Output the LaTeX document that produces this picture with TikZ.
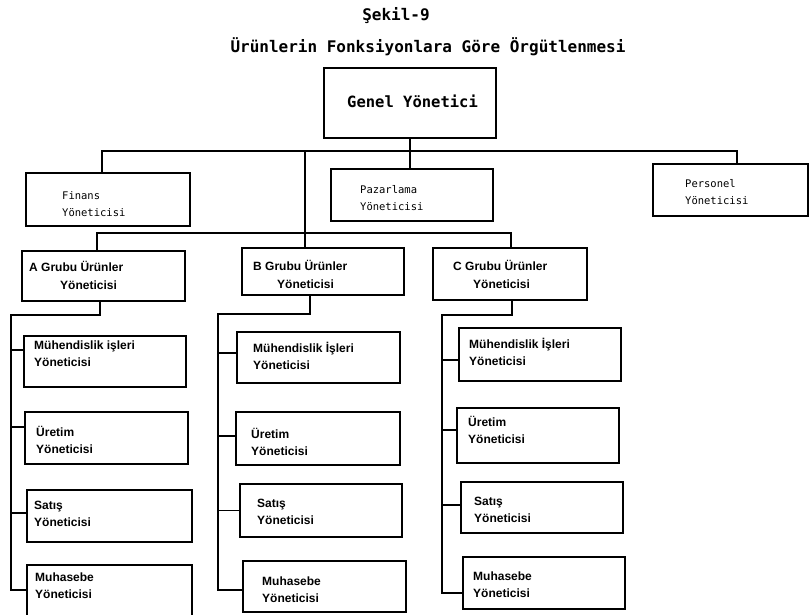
\documentclass[tikz,border=0pt]{standalone}
\usepackage{fontspec}
\setmainfont{Liberation Sans}
\newfontfamily\monofont{DejaVu Sans Mono}
% box given by its corners: name, x1, y1, x2, y2
\newcommand\orgbox[5]{\node[box, minimum width={(#4-#2)*1pt}, minimum height={(#5-#3)*1pt}] (#1) at ({(#2+#4)/2},{(#3+#5)/2}) {};}
\begin{document}
\begin{tikzpicture}[x=1pt,y=-1pt,
  box/.style={draw, line width=1.3pt, inner sep=0pt, outer sep=0pt, rectangle},
  conn/.style={line width=1.3pt},
  headtext/.style={inner sep=0pt, font=\monofont\bfseries\fontsize{16}{19}\selectfont},
  toptext/.style={anchor=west, align=left, inner sep=0pt, font=\monofont\fontsize{10.5}{17}\selectfont},
  subtext/.style={anchor=west, align=left, inner sep=0pt, font=\bfseries\fontsize{12}{17}\selectfont}]

\useasboundingbox (0,0) rectangle (809,615);

% headings
\node[headtext] (fig) at (396,16) {Şekil-9};
\node[headtext] (ttl) at (428,47) {Ürünlerin Fonksiyonlara Göre Örgütlenmesi};

% top level
\orgbox{gy}{324}{68}{496}{138}
\node[anchor=west, inner sep=0pt, font=\monofont\bfseries\fontsize{15.5}{18}\selectfont] (gyL) at (347,101) {Genel Yönetici};

% functional managers
\orgbox{fin}{26}{173}{190}{226}
\node[toptext] (finL) at (62,204) {Finans\\Yöneticisi};
\orgbox{pz}{331}{169}{493}{221}
\node[toptext] (pzL) at (360,198) {Pazarlama\\Yöneticisi};
\orgbox{per}{653}{164}{808}{216}
\node[toptext] (perL) at (685,192) {Personel\\Yöneticisi};

% product group managers
\orgbox{ga}{22}{251}{185}{301}
\node[subtext] (gaL1) at (29,266) {A Grubu Ürünler};
\node[subtext] (gaL2) at (60,285) {Yöneticisi};
\orgbox{gb}{242}{248}{404}{295}
\node[subtext] (gbL1) at (253,265) {B Grubu Ürünler};
\node[subtext] (gbL2) at (277,284) {Yöneticisi};
\orgbox{gc}{433}{248}{587}{300}
\node[subtext] (gcL1) at (453,265) {C Grubu Ürünler};
\node[subtext] (gcL2) at (473,284) {Yöneticisi};

% group A units
\orgbox{am}{24}{336}{186}{387}
\node[subtext] (amL) at (34,354) {Mühendislik işleri\\Yöneticisi};
\orgbox{au}{25}{412}{188}{464}
\node[subtext] (auL) at (36,440) {Üretim\\Yöneticisi};
\orgbox{as}{27}{490}{192}{542}
\node[subtext] (asL) at (34,514) {Satış\\Yöneticisi};
\orgbox{ah}{27}{565}{192}{620}
\node[subtext] (ahL) at (35,586) {Muhasebe\\Yöneticisi};

% group B units
\orgbox{bm}{237}{332}{400}{383}
\node[subtext] (bmL) at (253,356) {Mühendislik İşleri\\Yöneticisi};
\orgbox{bu}{236}{412}{400}{465}
\node[subtext] (buL) at (251,442) {Üretim\\Yöneticisi};
\orgbox{bs}{240}{484}{402}{537}
\node[subtext] (bsL) at (257,512) {Satış\\Yöneticisi};
\orgbox{bh}{243}{561}{406}{612}
\node[subtext] (bhL) at (262,590) {Muhasebe\\Yöneticisi};

% group C units
\orgbox{cm}{459}{328}{621}{381}
\node[subtext] (cmL) at (469,352) {Mühendislik İşleri\\Yöneticisi};
\orgbox{cu}{457}{408}{619}{463}
\node[subtext] (cuL) at (468,430) {Üretim\\Yöneticisi};
\orgbox{cs}{461}{482}{623}{533}
\node[subtext] (csL) at (474,510) {Satış\\Yöneticisi};
\orgbox{ch}{463}{557}{625}{609}
\node[subtext] (chL) at (473,585) {Muhasebe\\Yöneticisi};

% upper connectors
\coordinate (bus) at (0,151);
\coordinate (gbus) at (0,233);
\draw[conn] (gy.south) -- (gy.south |- pz.north);
\draw[conn] ([xshift=-6pt]fin.north) |- (bus -| gy.south) -| ([xshift=6.5pt]per.north);
\coordinate (gbIn) at ([xshift=-18pt]gb.north);
\draw[conn] (gbIn) -- (gbIn |- bus);
\draw[conn] ([xshift=-6.5pt]ga.north) |- (gbus -| gbIn) -| ([xshift=1pt]gc.north);

% group A spine
\coordinate (aTop) at (11,315);
\coordinate (amT) at ([yshift=11.5pt]am.west);
\coordinate (auT) at ([yshift=11pt]au.west);
\coordinate (asT) at ([yshift=3pt]as.west);
\coordinate (ahT) at ([yshift=2.5pt]ah.west);
\draw[conn] ([xshift=-3.5pt]ga.south) |- (aTop) |- (ahT);
\draw[conn] (amT -| aTop) -- (amT);
\draw[conn] (auT -| aTop) -- (auT);
\draw[conn] (asT -| aTop) -- (asT);

% group B spine
\coordinate (bTop) at (218,314);
\coordinate (bmT) at ([yshift=4.5pt]bm.west);
\coordinate (buT) at ([yshift=2.5pt]bu.west);
\coordinate (bsT) at (bs.west);
\coordinate (bhT) at ([yshift=-3.5pt]bh.west);
\draw[conn] ([xshift=-13pt]gb.south) |- (bTop) |- (bhT);
\draw[conn] (bmT -| bTop) -- (bmT);
\draw[conn] (buT -| bTop) -- (buT);
\draw[conn] (bsT -| bTop) -- (bsT);

% group C spine
\coordinate (cTop) at (442,315);
\coordinate (cmT) at ([yshift=-5.5pt]cm.west);
\coordinate (cuT) at ([yshift=5.5pt]cu.west);
\coordinate (csT) at ([yshift=2.5pt]cs.west);
\coordinate (chT) at ([yshift=-10pt]ch.west);
\draw[conn] ([xshift=2pt]gc.south) |- (cTop) |- (chT);
\draw[conn] (cmT -| cTop) -- (cmT);
\draw[conn] (cuT -| cTop) -- (cuT);
\draw[conn] (csT -| cTop) -- (csT);

\end{tikzpicture}
\end{document}
